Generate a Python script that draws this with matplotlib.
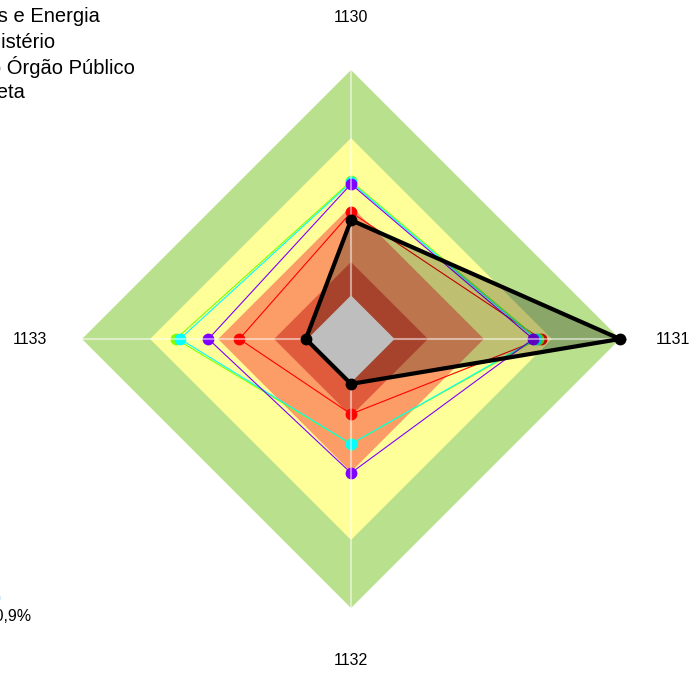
import numpy as np
import matplotlib
matplotlib.use("Agg")
import matplotlib.pyplot as plt

# ---- data ----
categories = ["1130", "1131", "1132", "1133"]
series_names = ["Ministério de Minas e Energia", "Média do Ministério",
                "Média do Órgão Público", "Meta"]
red_vals = [47.1, 70.6, 27.9, 41.5]
lime_vals = [58.7, 69.5, 39.0, 65.1]
cyan_vals = [58.2, 68.8, 39.0, 63.6]
purple_vals = [57.6, 67.7, 49.8, 53.0]
black_vals = [44.2, 100.0, 16.7, 16.8]
ring_levels = [100.0, 74.7, 49.4, 28.6, 16.2]
ring_colors = ["#B9E08D", "#FFFF99", "#FC9D68", "#E05A3C", "#BEBEBE"]
caption = "Média geral: 60,9%"

rmax = 100.0
angles = np.deg2rad(90 - 90 * np.arange(len(categories)))


def xy(vals):
    v = np.asarray(vals, dtype=float) / rmax
    x = v * np.cos(angles)
    y = v * np.sin(angles)
    return np.append(x, x[0]), np.append(y, y[0])


W, H = 693, 673
fig = plt.figure(figsize=(W / 100, H / 100), dpi=100)
ax = fig.add_axes([0, 0, 1, 1])
ax.axis("off")
cx, cy, R = 351, 673 - 339, 269.0
ax.set_xlim(-cx / R, (W - cx) / R)
ax.set_ylim(-cy / R, (H - cy) / R)

plt.rcParams["font.family"] = ["Liberation Sans", "DejaVu Sans"]

# background rings (all but grey centre)
for lvl, col in zip(ring_levels[:-1], ring_colors[:-1]):
    x, y = xy([lvl] * len(categories))
    ax.fill(x, y, color=col, lw=0, zorder=1)

# coloured series
series = [(red_vals, "#FF0000"), (lime_vals, "#80FF00"),
          (cyan_vals, "#00FFFF"), (purple_vals, "#8000FF")]
for vals, col in series:
    x, y = xy(vals)
    ax.plot(x, y, color=col, lw=0.8, zorder=3)
    ax.plot(x[:-1], y[:-1], "o", color=col, ms=7.5, mec=col, zorder=4)

# black series with fill
x, y = xy(black_vals)
ax.fill(x, y, color="black", alpha=0.25, lw=0, zorder=5)

# axis lines
for a in angles:
    ax.plot([0, np.cos(a)], [0, np.sin(a)], color="white", alpha=0.5,
            lw=1.5, zorder=6)

# grey centre on top
x, y = xy([ring_levels[-1]] * len(categories))
ax.fill(x, y, color=ring_colors[-1], lw=0, zorder=7)

ax.plot(x * 0, y * 0, alpha=0)
xb, yb = xy(black_vals)
ax.plot(xb, yb, color="black", lw=3, zorder=8, solid_joinstyle="miter")
ax.plot(xb[:-1], yb[:-1], "o", color="black", ms=7.5, zorder=9)

# category labels
for a, lab in zip(angles, categories):
    r = 1.195
    ax.text(r * np.cos(a), r * np.sin(a), lab, ha="center", va="center",
            fontsize=11.5, color="black", zorder=10)

# legend-like texts (partially outside the canvas, as in the reference)
legend_ends = [100, 55, 135, 25]
legend_y = [16, 42, 67, 93]
for name, xe, ye in zip(series_names, legend_ends, legend_y):
    fig.text(xe / W, 1 - ye / H, name, ha="right", va="center",
             fontsize=14.5, color="black")

fig.text(31 / W, 1 - 617 / H, caption, ha="right", va="center",
         fontsize=11.5, color="black")
fig.text(2 / W, 1 - 597 / H, "IGG", ha="right", va="center",
         fontsize=11.5, color="#4FA8E8")

fig.savefig("out.png", dpi=100)
